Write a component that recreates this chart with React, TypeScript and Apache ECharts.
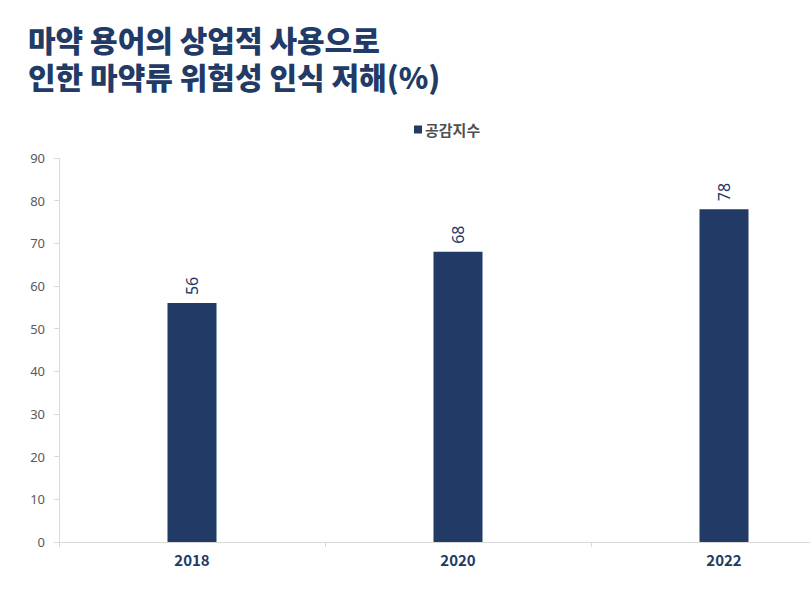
import React, { useEffect, useRef } from "react";
import * as echarts from "echarts";

const categories = ["2018", "2020", "2022"];
const values = [56, 68, 78];
const seriesName = "공감지수";
const titleLines = ["마약 용어의 상업적 사용으로", "인한 마약류 위험성 인식 저해(%)"];

const NAVY = "#213a66";

export default function App() {
  const ref = useRef<HTMLDivElement>(null);
  useEffect(() => {
    document.body.style.margin = "0";
    const chart = echarts.init(ref.current!, null, { renderer: "svg" });
    const titleStyle = {
      fontFamily: "Noto Sans CJK KR",
      fontWeight: 900,
      fontSize: 30,
      lineHeight: 32,
      color: NAVY,
    };
    chart.setOption({
      animation: false,
      backgroundColor: "#ffffff",
      title: titleLines.map((t, i) => ({
        text: t,
        left: 28,
        top: 23 + i * 37,
        padding: 0,
        textStyle: titleStyle,
      })),
      legend: {
        left: 409,
        top: 117,
        itemWidth: 8,
        itemHeight: 8,
        itemGap: 4,
        icon: "rect",
        textStyle: {
          fontFamily: "Noto Sans CJK KR",
          fontWeight: "bold",
          fontSize: 15,
          color: "#505050",
          padding: [0, 0, 0, -2],
        },
        data: [seriesName],
      },
      grid: { left: 59, top: 158, bottom: 50, right: -47, outerBoundsMode: "none", containLabel: false },
      xAxis: {
        type: "category",
        data: categories,
        axisLine: { lineStyle: { color: "#d9d9d9" } },
        axisTick: { show: true, length: 5, lineStyle: { color: "#d9d9d9" } },
        axisLabel: {
          margin: 10,
          fontFamily: "Noto Sans CJK KR",
          fontWeight: "bold",
          fontSize: 15,
          color: NAVY,
        },
      },
      yAxis: {
        type: "value",
        min: 0,
        max: 90,
        interval: 10,
        splitLine: { show: false },
        axisLine: { show: true, lineStyle: { color: "#d9d9d9" } },
        axisTick: { show: true, length: 5, lineStyle: { color: "#d9d9d9" } },
        axisLabel: {
          margin: 14,
          fontFamily: "Noto Sans",
          fontSize: 13,
          color: "#595959",
        },
      },
      series: [
        {
          name: seriesName,
          type: "bar",
          data: values,
          barWidth: 49,
          itemStyle: { color: NAVY },
          label: {
            show: true,
            position: "top",
            rotate: 90,
            align: "left",
            verticalAlign: "middle",
            distance: 8,
            fontFamily: "Noto Sans",
            fontSize: 16,
            color: NAVY,
          },
        },
      ],
    });
    return () => chart.dispose();
  }, []);
  return <div ref={ref} style={{ width: 810, height: 592 }} />;
}
